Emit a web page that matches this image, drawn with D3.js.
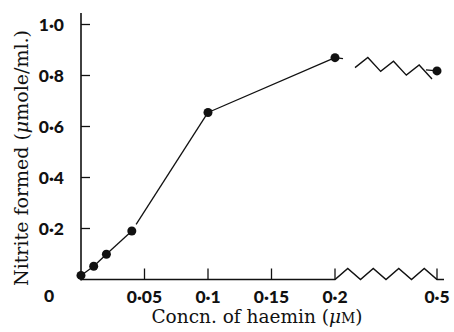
<!DOCTYPE html>
<html>
<head>
<meta charset="utf-8">
<script src="https://cdn.jsdelivr.net/npm/d3@7"></script>
<style>
  body { margin: 0; background: #fff; }
  .tick-label { font-family: Lato, "Open Sans", sans-serif; font-weight: 900; font-size: 17.5px; fill: #111; }
  .axis-title { font-family: "DejaVu Serif", serif; font-size: 18.5px; fill: #111; }
</style>
</head>
<body>
<div id="chart"></div>
<script>

//////////////////////////////////////////////////////////////
////////////////////////// Data //////////////////////////////
//////////////////////////////////////////////////////////////

//haemin concentration (uM) and nitrite formed (umole/ml.)
var haemin = [0, 0.01, 0.02, 0.04, 0.1, 0.2, 0.5];
var nitrite = [0.016, 0.052, 0.099, 0.19, 0.655, 0.87, 0.818];

var xTicks = [0.05, 0.1, 0.15, 0.2, 0.5];
var xTickLabels = ["0\u00b705", "0\u00b71", "0\u00b715", "0\u00b72", "0\u00b75"];
var yTicks = [0.2, 0.4, 0.6, 0.8, 1.0];
var yTickLabels = ["0\u00b72", "0\u00b74", "0\u00b76", "0\u00b78", "1\u00b70"];

//////////////////////////////////////////////////////////////
////////////////////////// Setup /////////////////////////////
//////////////////////////////////////////////////////////////

var width = 454,
    height = 332;

//broken x axis: 0-0.2 linear, then a squeezed jump to 0.5
var x = d3.scaleLinear()
    .domain([0, 0.2, 0.5])
    .range([81, 335, 437]);

var y = d3.scaleLinear()
    .domain([0, 1])
    .range([279.5, 24.5]);

var svg = d3.select("#chart").append("svg")
    .attr("width", width)
    .attr("height", height);

var ink = "#111";

//////////////////////////////////////////////////////////////
////////////////////////// Axes //////////////////////////////
//////////////////////////////////////////////////////////////

//y axis line
svg.append("line")
    .attr("x1", x(0)).attr("x2", x(0))
    .attr("y1", 13).attr("y2", y(0) + 1)
    .attr("stroke", ink)
    .attr("stroke-width", 1.6);

//y ticks point inwards
svg.append("g").selectAll("line")
    .data(yTicks)
    .enter().append("line")
    .attr("x1", x(0)).attr("x2", x(0) + 9)
    .attr("y1", function(d) { return y(d); })
    .attr("y2", function(d) { return y(d); })
    .attr("stroke", ink)
    .attr("stroke-width", 1.3);

svg.append("g").selectAll("text")
    .data(yTicks)
    .enter().append("text")
    .attr("class", "tick-label")
    .attr("x", 64)
    .attr("y", function(d) { return y(d) + 6; })
    .attr("text-anchor", "end")
    .text(function(d, i) { return yTickLabels[i]; });

//x axis line up to the break, the zigzag, then the tail past 0.5
var zig = [[x(0), y(0)], [x(0.2), y(0)]];
var nPeaks = 4,
    step = (x(0.5) - x(0.2)) / (nPeaks * 2);
for (var k = 1; k <= nPeaks * 2; k++) {
    zig.push([x(0.2) + k * step, k % 2 ? y(0) - 11 : y(0)]);
}
zig.push([x(0.5) + 7, y(0)]);

svg.append("path")
    .attr("d", d3.line()(zig))
    .attr("fill", "none")
    .attr("stroke", ink)
    .attr("stroke-width", 1.5)
    .attr("stroke-linejoin", "miter");

svg.append("g").selectAll("line")
    .data(xTicks)
    .enter().append("line")
    .attr("x1", function(d) { return x(d); })
    .attr("x2", function(d) { return x(d); })
    .attr("y1", y(0))
    .attr("y2", y(0) - 11)
    .attr("stroke", ink)
    .attr("stroke-width", 1.3);

svg.append("g").selectAll("text")
    .data(xTicks)
    .enter().append("text")
    .attr("class", "tick-label")
    .attr("x", function(d) { return x(d); })
    .attr("y", 303)
    .attr("text-anchor", "middle")
    .text(function(d, i) { return xTickLabels[i]; });

//shared zero at the origin
svg.append("text")
    .attr("class", "tick-label")
    .attr("x", 49)
    .attr("y", 302)
    .attr("text-anchor", "middle")
    .text("0");

//axis titles
var xt = svg.append("text")
    .attr("class", "axis-title")
    .attr("x", 257)
    .attr("y", 323)
    .attr("text-anchor", "middle");
xt.append("tspan").text("Concn. of haemin (");
xt.append("tspan").attr("font-style", "italic").text("\u03bc");
xt.append("tspan").attr("font-size", "14px").text("M");
xt.append("tspan").text(")");

var yt = svg.append("text")
    .attr("class", "axis-title")
    .attr("transform", "translate(28,158) rotate(-90)")
    .attr("text-anchor", "middle")
    .style("font-size", "19px");
yt.append("tspan").text("Nitrite formed (");
yt.append("tspan").attr("font-style", "italic").text("\u03bc");
yt.append("tspan").text("mole/ml.)");

//////////////////////////////////////////////////////////////
///////////////////////// Data line //////////////////////////
//////////////////////////////////////////////////////////////

var pts = haemin.map(function(d, i) { return [x(d), y(nitrite[i])]; });

//segments up to 0.2 (small gap where the 0.04 -> 0.1 segment leaves the dot)
var segs = svg.append("g");
for (var s = 0; s < 5; s++) {
    var p0 = pts[s], p1 = pts[s + 1];
    if (s === 3) {
        var dx = p1[0] - p0[0], dy = p1[1] - p0[1], len = Math.sqrt(dx * dx + dy * dy);
        p0 = [p0[0] + dx / len * 8, p0[1] + dy / len * 8];
    }
    segs.append("line")
        .attr("x1", p0[0]).attr("y1", p0[1])
        .attr("x2", p1[0]).attr("y2", p1[1])
        .attr("stroke", ink)
        .attr("stroke-width", 1.3);
}

//broken segment from 0.2 to 0.5: stub, zigzag, stub
var a = pts[5], b = pts[6];
segs.append("line")
    .attr("x1", a[0]).attr("y1", a[1])
    .attr("x2", a[0] + 8).attr("y2", a[1] + 1)
    .attr("stroke", ink).attr("stroke-width", 1.3);

var zx0 = a[0] + 20, zx1 = b[0] - 5,
    zy0 = a[1] + 4, zy1 = b[1] + 2,
    zz = [];
for (var m = 0; m <= 6; m++) {
    var t = m / 6;
    zz.push([zx0 + t * (zx1 - zx0), zy0 + t * (zy1 - zy0) + (m % 2 ? -6 : 6)]);
}
segs.append("path")
    .attr("d", d3.line()(zz))
    .attr("fill", "none")
    .attr("stroke", ink)
    .attr("stroke-width", 1.4);

segs.append("line")
    .attr("x1", b[0] - 11).attr("y1", b[1] - 1)
    .attr("x2", b[0]).attr("y2", b[1])
    .attr("stroke", ink).attr("stroke-width", 1.3);

//dots
svg.append("g").selectAll("circle")
    .data(pts)
    .enter().append("circle")
    .attr("cx", function(d) { return d[0]; })
    .attr("cy", function(d) { return d[1]; })
    .attr("r", 4.5)
    .attr("fill", ink);

</script>
</body>
</html>
